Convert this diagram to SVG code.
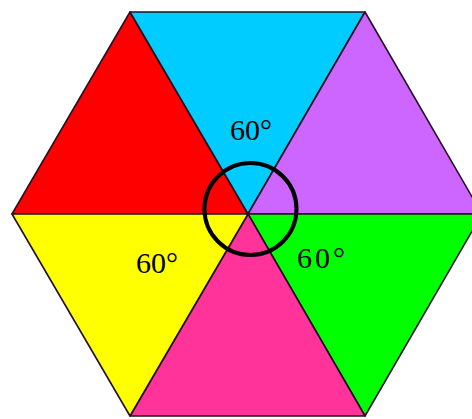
<svg xmlns="http://www.w3.org/2000/svg" width="472" height="419" viewBox="0 0 472 419">
<style>
.tri{stroke:#221122;stroke-width:1.6;stroke-linejoin:round}
.lbl{font-family:"Liberation Serif","Times New Roman",serif;font-size:30px;fill:#000}
</style>
<rect width="472" height="419" fill="#fff"/>
<g id="red"><polygon class="tri" points="248,214 12,214 130,12" fill="#ff0000"/></g>
<g id="cyan"><polygon class="tri" points="248,214 130,12 365,12" fill="#00ccff"/></g>
<g id="purple"><polygon class="tri" points="248,214 365,12 482,214" fill="#cc66ff"/></g>
<g id="green"><polygon class="tri" points="248,214 482,214 365,416" fill="#00ff00"/></g>
<g id="pink"><polygon class="tri" points="248,214 365,416 130,416" fill="#ff3399"/></g>
<g id="yellow"><polygon class="tri" points="248,214 130,416 12,214" fill="#ffff00"/></g>
<g id="circle"><circle cx="250.5" cy="209" r="46" fill="none" stroke="#000" stroke-width="4"/></g>
<g id="labels">
<text class="lbl" x="230" y="140">60°</text>
<text class="lbl" x="136" y="273">60°</text>
<text class="lbl" x="297" y="268" letter-spacing="3">60°</text>
</g>
</svg>
